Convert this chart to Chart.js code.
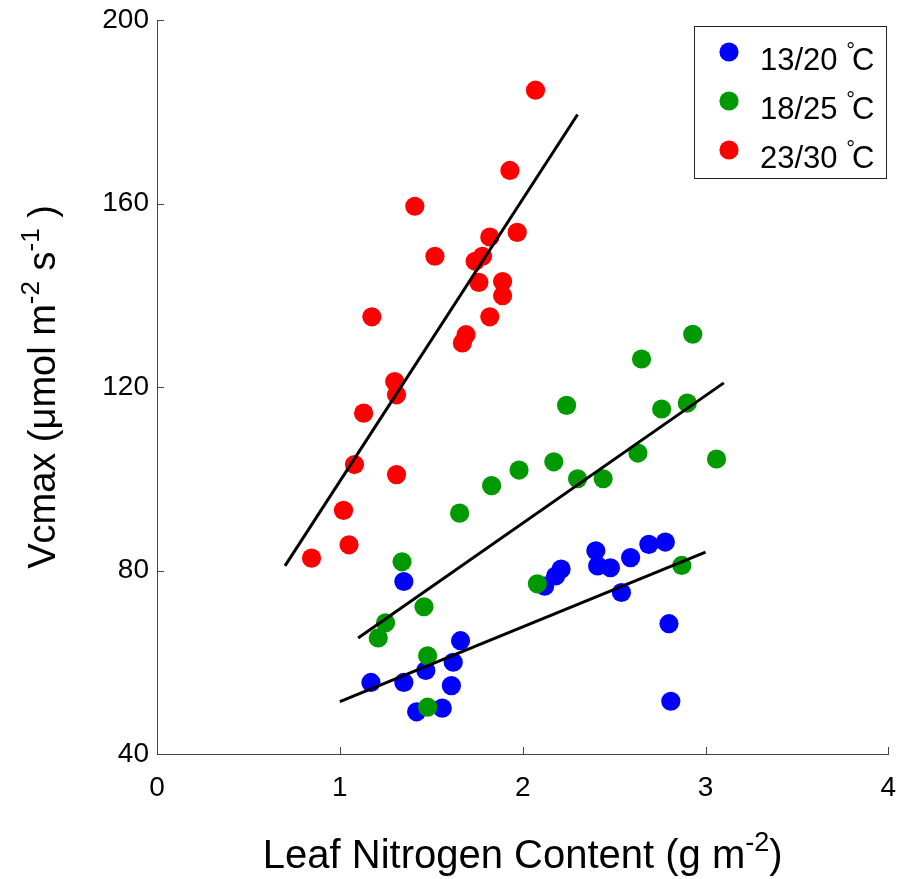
<!DOCTYPE html>
<html><head><meta charset="utf-8">
<script src="https://cdn.jsdelivr.net/npm/chart.js@4.4.0/dist/chart.umd.min.js"></script>
<style>html,body{margin:0;padding:0;background:#fff;}canvas{display:block;}</style>
</head><body>
<canvas id="c" width="898" height="879"></canvas>
<script>
const xTicks = [0, 1, 2, 3, 4];
const yTicks = [40, 80, 120, 160, 200];
const seriesNames = ['13/20', '18/25', '23/30'];
const seriesColors = ['#0000ff', '#009900', '#ff0000'];

const blueX = [2.78, 2.69, 2.40, 2.59, 2.41, 2.48, 2.21, 2.18, 2.12, 2.54, 1.35, 2.80, 1.66, 1.62, 1.47, 1.17, 1.35, 1.61, 1.42, 1.56, 2.81];
const blueY = [86.2, 85.7, 84.3, 82.8, 81.0, 80.6, 80.3, 78.8, 76.6, 75.2, 77.6, 68.4, 64.7, 60.0, 58.2, 55.6, 55.6, 54.9, 49.2, 50.0, 51.5];

const greenX = [2.93, 2.65, 2.24, 2.76, 2.90, 2.63, 3.06, 2.17, 1.98, 1.83, 2.30, 2.44, 1.655, 1.34, 2.08, 2.87, 1.46, 1.25, 1.21, 1.48, 1.48];
const greenY = [131.5, 126.1, 116.0, 115.2, 116.5, 105.6, 104.3, 103.7, 101.9, 98.5, 100.0, 100.0, 92.5, 81.9, 77.1, 81.1, 72.1, 68.6, 65.3, 61.4, 50.2];

const redX = [2.07, 1.93, 1.41, 1.97, 1.82, 1.52, 1.78, 1.74, 1.89, 1.76, 1.89, 1.175, 1.82, 1.69, 1.67, 1.30, 1.31, 1.13, 1.08, 1.31, 1.02, 1.05, 0.845];
const redY = [184.7, 167.2, 159.4, 153.7, 152.7, 148.5, 148.5, 147.4, 143.0, 142.8, 139.9, 135.3, 135.3, 131.4, 129.6, 121.2, 118.3, 114.3, 103.1, 100.9, 93.1, 85.6, 82.7];

const blueFitX = [1.00, 3.00], blueFitY = [51.4, 84.0];
const greenFitX = [1.10, 3.10], greenFitY = [65.3, 120.9];
const redFitX = [0.70, 2.30], redFitY = [81.0, 179.4];

const FONT = '"Liberation Sans", Arial, Helvetica, sans-serif';
const pts = (xs, ys) => xs.map((x, i) => ({x: x, y: ys[i]}));

function scatterSet(name, xs, ys, color, order) {
  return {type: 'scatter', label: name, data: pts(xs, ys), backgroundColor: color,
    borderWidth: 0, pointRadius: 9.6, pointHoverRadius: 9.6, order: order};
}
function fitSet(xs, ys) {
  return {type: 'line', data: pts(xs, ys), borderColor: '#000', borderWidth: 3,
    pointRadius: 0, showLine: true, fill: false, order: 0};
}

function drawRich(ctx, parts, cx, y, size) {
  let total = 0;
  const ws = parts.map(p => {
    ctx.font = (p.sup ? Math.round(size * p.sup) : size) + 'px ' + FONT;
    const w = ctx.measureText(p.t).width; total += w; return w;
  });
  let x = cx - total / 2;
  parts.forEach((p, i) => {
    ctx.font = (p.sup ? Math.round(size * p.sup) : size) + 'px ' + FONT;
    ctx.fillText(p.t, x, y - (p.raise || 0));
    x += ws[i];
  });
}

const decor = {
  id: 'decor',
  afterDraw(chart) {
    const ctx = chart.ctx, a = chart.chartArea;
    const xs = chart.scales.x, ys = chart.scales.y;
    ctx.save();
    // inward ticks
    ctx.strokeStyle = '#444'; ctx.lineWidth = 1;
    ctx.beginPath();
    xTicks.forEach(v => { const px = Math.round(xs.getPixelForValue(v)) + 0.5;
      ctx.moveTo(px, a.bottom); ctx.lineTo(px, a.bottom - 7); });
    yTicks.forEach(v => { const py = Math.round(ys.getPixelForValue(v)) + 0.5;
      ctx.moveTo(a.left, py); ctx.lineTo(a.left + 7, py); });
    ctx.stroke();

    // legend
    const L = {x1: 694, y1: 26, x2: 886, y2: 178};
    ctx.fillStyle = '#fff';
    ctx.fillRect(L.x1, L.y1, L.x2 - L.x1, L.y2 - L.y1);
    ctx.strokeStyle = '#222'; ctx.lineWidth = 1;
    ctx.strokeRect(L.x1 + 0.5, L.y1 + 0.5, L.x2 - L.x1, L.y2 - L.y1);
    const rows = [52, 101, 150];
    ctx.textAlign = 'left'; ctx.textBaseline = 'alphabetic';
    seriesNames.forEach((n, i) => {
      ctx.fillStyle = seriesColors[i];
      ctx.beginPath(); ctx.arc(729, rows[i], 9.6, 0, Math.PI * 2); ctx.fill();
      ctx.fillStyle = '#000';
      let x = 760; const base = rows[i] + 18;
      ctx.font = '31px ' + FONT;
      const t = n + ' ';
      ctx.fillText(t, x, base); x += ctx.measureText(t).width;
      ctx.font = '22px ' + FONT;
      ctx.fillText('\u00B0', x, base - 12); x += ctx.measureText('\u00B0').width - 3;
      ctx.font = '31px ' + FONT;
      ctx.fillText('C', x, base);
    });

    // axis titles
    ctx.fillStyle = '#000'; ctx.textAlign = 'left'; ctx.textBaseline = 'alphabetic';
    const cx = (a.left + a.right) / 2;
    drawRich(ctx, [{t: 'Leaf Nitrogen Content (g m'}, {t: '-2', sup: 0.68, raise: 17}, {t: ')'}], cx, 868, 40);
    ctx.translate(55, (a.top + a.bottom) / 2);
    ctx.rotate(-Math.PI / 2);
    drawRich(ctx, [{t: 'Vcmax (\u03BCmol m'}, {t: '-2', sup: 0.68, raise: 16}, {t: ' s'}, {t: '-1', sup: 0.68, raise: 16}, {t: ' )'}], 0, 0, 38);
    ctx.restore();
  }
};

new Chart(document.getElementById('c'), {
  type: 'scatter',
  data: {datasets: [
    scatterSet(seriesNames[0], blueX, blueY, seriesColors[0], 3),
    scatterSet(seriesNames[1], greenX, greenY, seriesColors[1], 2),
    scatterSet(seriesNames[2], redX, redY, seriesColors[2], 1),
    fitSet(blueFitX, blueFitY),
    fitSet(greenFitX, greenFitY),
    fitSet(redFitX, redFitY)
  ]},
  options: {
    responsive: false, animation: false, devicePixelRatio: 1,
    layout: {padding: {top: 20, right: 7, left: 0, bottom: 0}},
    plugins: {legend: {display: false}, tooltip: {enabled: false}},
    scales: {
      x: {type: 'linear', min: 0, max: 4,
        afterBuildTicks: s => { s.ticks = xTicks.map(v => ({value: v})); },
        afterFit: s => { s.height = 125; s.paddingLeft = 0; s.paddingRight = 0; },
        grid: {display: true, drawOnChartArea: false, drawTicks: false},
        border: {display: true, color: '#444', width: 1},
        ticks: {color: '#000', font: {family: FONT, size: 28}, padding: 17, maxRotation: 0}
      },
      y: {type: 'linear', min: 40, max: 200,
        afterBuildTicks: s => { s.ticks = yTicks.map(v => ({value: v})); },
        afterFit: s => { s.width = 157; s.paddingTop = 0; s.paddingBottom = 0; },
        grid: {display: true, drawOnChartArea: false, drawTicks: false},
        border: {display: true, color: '#444', width: 1},
        ticks: {color: '#000', font: {family: FONT, size: 28}, padding: 8}
      }
    }
  },
  plugins: [decor]
});
</script>
</body></html>
